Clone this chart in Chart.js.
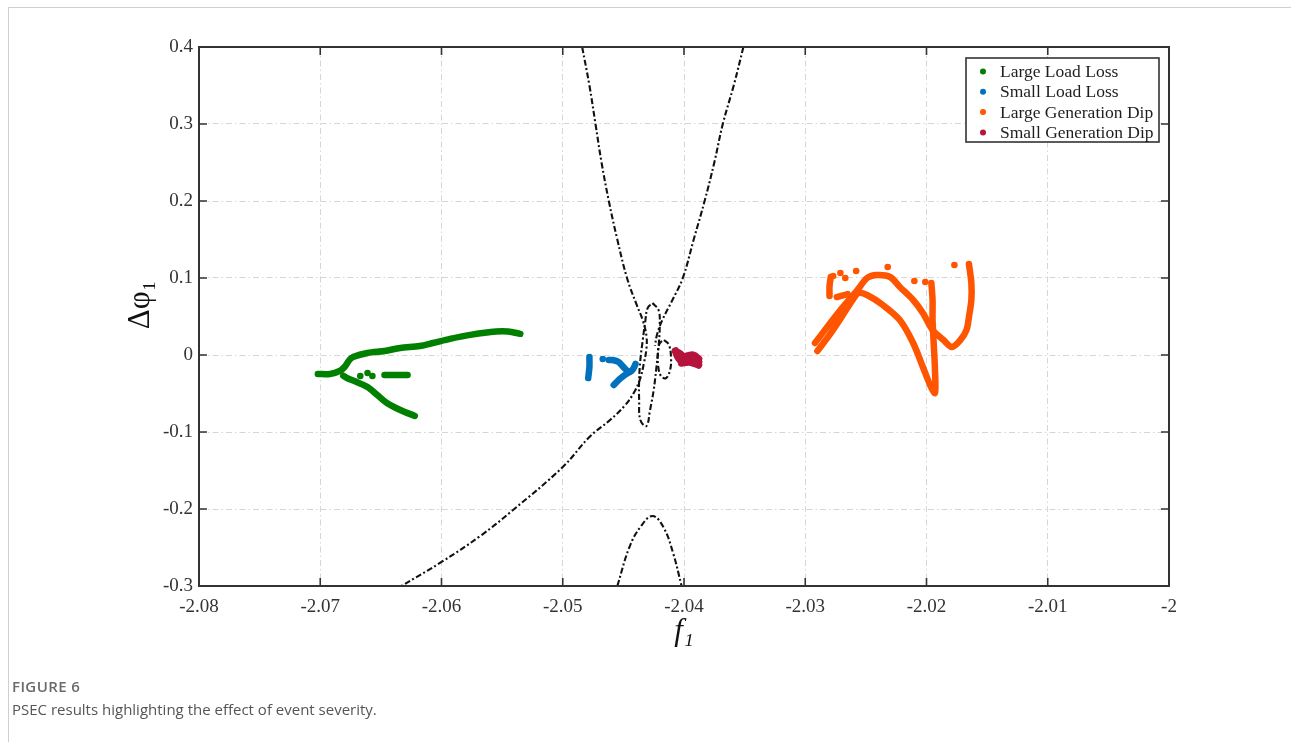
<!DOCTYPE html>
<html><head><meta charset="utf-8">
<script src="https://cdn.jsdelivr.net/npm/chart.js@4.4.0/dist/chart.umd.min.js"></script>
<style>
html,body{margin:0;padding:0;background:#fff;}
#wrap{position:absolute;left:0;top:0;width:1291px;height:742px;}
#frameTop{position:absolute;left:8px;top:7px;width:1283px;height:1px;background:#cfcfcf;}
#frameLeft{position:absolute;left:8px;top:7px;width:1px;height:735px;background:#cfcfcf;}
#figno{position:absolute;left:12px;top:676px;font:600 15px "Open Sans";color:#6a6a6a;letter-spacing:0.4px;}
#cap{position:absolute;left:12px;top:699px;font:15px "Open Sans";color:#555;}
canvas{position:absolute;left:0;top:0;}
</style></head>
<body>
<div id="wrap">
<div id="frameTop"></div><div id="frameLeft"></div>
<canvas id="c" width="1291" height="742"></canvas>
<div id="figno">FIGURE 6</div>
<div id="cap">PSEC results highlighting the effect of event severity.</div>
</div>
<script>
// ---------- axis ticks ----------
const xTickValues = [-2.08,-2.07,-2.06,-2.05,-2.04,-2.03,-2.02,-2.01,-2];
const xTickLabels = ['-2.08','-2.07','-2.06','-2.05','-2.04','-2.03','-2.02','-2.01','-2'];
const yTickValues = [-0.3,-0.2,-0.1,0,0.1,0.2,0.3,0.4];
const yTickLabels = ['-0.3','-0.2','-0.1','0','0.1','0.2','0.3','0.4'];
const xTitle = 'f\u2081';
const yTitle = '   \u0394\u03c6\u2081';

// ---------- series ----------
const seriesNames = ['Large Load Loss','Small Load Loss','Large Generation Dip','Small Generation Dip'];
const seriesColors = ['#008000','#0072bd','#ff5500','#b5143c'];

// Large Load Loss
const greenMain = [[-2.0702,-0.0247],[-2.0692,-0.0247],[-2.0684,-0.0208],[-2.0680,-0.0156],[-2.0676,-0.0065],[-2.0673,-0.0026],[-2.0661,0.0026],[-2.0647,0.0052],[-2.0634,0.0091],[-2.0618,0.0117],[-2.0607,0.0156],[-2.0593,0.0210],[-2.0575,0.0265],[-2.0555,0.0305],[-2.0545,0.0305],[-2.0535,0.0275]];
const greenLower = [[-2.0681,-0.0270],[-2.0678,-0.0299],[-2.0670,-0.0351],[-2.0661,-0.0416],[-2.0653,-0.0519],[-2.0645,-0.0623],[-2.0634,-0.0714],[-2.0622,-0.0792]];
const greenDash = [[-2.0647,-0.0260],[-2.0628,-0.0260]];
const greenDots = [[-2.0667,-0.0273],[-2.0661,-0.0234],[-2.0657,-0.0273]];

// Small Load Loss
const blueBar = [[-2.0478,-0.0026],[-2.0478,-0.0156],[-2.0479,-0.0299]];
const blueMain = [[-2.0462,-0.0065],[-2.0459,-0.0065],[-2.0454,-0.0091],[-2.0450,-0.0156],[-2.0445,-0.0221],[-2.0442,-0.0182],[-2.0440,-0.0117]];
const blueLower = [[-2.0445,-0.0221],[-2.0450,-0.0273],[-2.0454,-0.0325],[-2.0458,-0.0390]];
const blueDots = [[-2.0467,-0.0052]];

// Large Generation Dip
const orangeArcA = [[-2.0292,0.0156],[-2.0271,0.0584],[-2.0257,0.0844],[-2.0249,0.1000],[-2.0241,0.1039],[-2.0230,0.1013],[-2.0222,0.0883],[-2.0211,0.0714],[-2.0203,0.0545],[-2.0195,0.0325],[-2.0186,0.0195],[-2.0179,0.0104],[-2.0172,0.0195],[-2.0167,0.0325],[-2.0165,0.0494],[-2.0163,0.0714],[-2.0163,0.0935],[-2.0165,0.1182]];
const orangeArcB = [[-2.0290,0.0052],[-2.0280,0.0260],[-2.0269,0.0519],[-2.0261,0.0714],[-2.0256,0.0805],[-2.0249,0.0779],[-2.0236,0.0649],[-2.0222,0.0455],[-2.0211,0.0156],[-2.0203,-0.0156],[-2.0197,-0.0390],[-2.0193,-0.0494],[-2.0193,-0.0195],[-2.0194,0.0130],[-2.0195,0.0455],[-2.0195,0.0714],[-2.0196,0.0935]];
const orangeTop = [[-2.0274,0.0753],[-2.0265,0.0792]];
const orangeLeftBar = [[-2.0279,0.1013],[-2.0280,0.0890],[-2.0280,0.0766]];
const orangeDots = [[-2.0277,0.1026],[-2.0271,0.1065],[-2.0267,0.1000],[-2.0258,0.1091],[-2.0232,0.1143],[-2.0210,0.0961],[-2.0201,0.0948],[-2.0177,0.1169]];

// Small Generation Dip
const redA = [[-2.0407,0.0052],[-2.0405,-0.0026],[-2.0403,-0.0065],[-2.0400,-0.0091],[-2.0397,-0.0065],[-2.0393,-0.0052],[-2.0390,-0.0065],[-2.0388,-0.0091]];
const redB = [[-2.0406,0.0039],[-2.0403,0.0013],[-2.0400,-0.0026],[-2.0397,-0.0013],[-2.0393,0.0000],[-2.0391,-0.0013],[-2.0388,-0.0052]];
const redC = [[-2.0402,-0.0104],[-2.0396,-0.0091],[-2.0390,-0.0117],[-2.0388,-0.0130]];

// Boundary curves (dash-dot)
const curveLeft = [[-2.0484,0.40],[-2.0478,0.35],[-2.0473,0.30],[-2.0468,0.25],[-2.0462,0.20],[-2.0455,0.15],[-2.0447,0.10],[-2.0439,0.065],[-2.0434,0.045],[-2.0431,0.025],[-2.0431,0.008],[-2.0433,-0.010],[-2.0436,-0.030],[-2.0441,-0.048],[-2.0449,-0.066],[-2.0461,-0.0844],[-2.0478,-0.1065],[-2.0500,-0.1455],[-2.0541,-0.2013],[-2.0568,-0.2350],[-2.0600,-0.2688],[-2.0633,-0.30]];
const curveRight = [[-2.0351,0.40],[-2.0359,0.35],[-2.0368,0.30],[-2.0375,0.25],[-2.0383,0.20],[-2.0392,0.15],[-2.0401,0.10],[-2.0410,0.07],[-2.0418,0.045],[-2.0422,0.028],[-2.0424,0.012]];
const curveBump = [[-2.0455,-0.30],[-2.0445,-0.2494],[-2.0436,-0.2234],[-2.0426,-0.2091],[-2.0417,-0.2234],[-2.0409,-0.2571],[-2.0402,-0.30]];
const ellipseTall = [[-2.0426,0.0675],[-2.0421,0.0584],[-2.0420,0.0390],[-2.0421,0.0104],[-2.0423,-0.0195],[-2.0425,-0.0455],[-2.0428,-0.0714],[-2.0431,-0.0922],[-2.0436,-0.0844],[-2.0437,-0.0584],[-2.0437,-0.0325],[-2.0436,-0.0065],[-2.0434,0.0195],[-2.0432,0.0429],[-2.0430,0.0610],[-2.0426,0.0675]];
const ellipseSmall = [[-2.04165,0.0195],[-2.04124,0.0130],[-2.04107,-0.0039],[-2.04115,-0.0195],[-2.04148,-0.0299],[-2.04190,-0.0273],[-2.04214,-0.0130],[-2.04214,0.0065],[-2.04198,0.0156],[-2.04165,0.0195]];

const seriesSegments = [
  [greenMain, greenLower, greenDash],
  [blueBar, blueMain, blueLower],
  [orangeArcA, orangeArcB, orangeTop, orangeLeftBar],
  [redA, redB, redC]
];
const seriesDots = [greenDots, blueDots, orangeDots, []];
const boundaryCurves = [curveLeft, curveRight, curveBump, ellipseTall, ellipseSmall];

// ---------- build datasets ----------
const pts = a => a.map(p => ({x: p[0], y: p[1]}));
const datasets = [];
boundaryCurves.forEach(c => datasets.push({
  data: pts(c), showLine: true, borderColor: '#111', borderWidth: 2.1,
  borderDash: [6, 2.5, 2, 2.5], pointRadius: 0, tension: 0.4, fill: false, order: 2
}));
seriesSegments.forEach((segs, i) => {
  segs.forEach(s => datasets.push({
    data: pts(s), showLine: true, borderColor: seriesColors[i], backgroundColor: seriesColors[i],
    borderWidth: i === 3 ? 7.5 : 6.5, pointRadius: 0, tension: 0.3,
    borderCapStyle: 'round', borderJoinStyle: 'round', fill: false, order: 0
  }));
  if (seriesDots[i].length) datasets.push({
    data: pts(seriesDots[i]), showLine: false, backgroundColor: seriesColors[i],
    borderColor: seriesColors[i], pointRadius: 3.3, borderWidth: 0, order: 0
  });
});

const labelFor = (vals, labs, v) => { const k = vals.findIndex(t => Math.abs(t - v) < 1e-9); return k >= 0 ? labs[k] : ''; };

const framePlugin = {
  id: 'frame',
  afterDraw(chart) {
    const {ctx, chartArea: a, scales: {x, y}} = chart;
    ctx.save();
    ctx.strokeStyle = '#333'; ctx.lineWidth = 1.6;
    ctx.beginPath();
    xTickValues.forEach(v => { const p = x.getPixelForValue(v);
      ctx.moveTo(p, a.bottom); ctx.lineTo(p, a.bottom - 8);
      ctx.moveTo(p, a.top); ctx.lineTo(p, a.top + 8); });
    yTickValues.forEach(v => { const p = y.getPixelForValue(v);
      ctx.moveTo(a.left, p); ctx.lineTo(a.left + 8, p);
      ctx.moveTo(a.right, p); ctx.lineTo(a.right - 8, p); });
    ctx.stroke();
    ctx.lineWidth = 2;
    ctx.strokeRect(a.left, a.top, a.right - a.left, a.bottom - a.top);
    // legend
    const bx = 966, by = 58, bw = 193, bh = 84;
    ctx.fillStyle = '#fff';
    ctx.fillRect(bx, by, bw, bh);
    ctx.lineWidth = 1.6; ctx.strokeStyle = '#333';
    ctx.strokeRect(bx, by, bw, bh);
    ctx.font = '17.5px "Liberation Serif"';
    ctx.textBaseline = 'middle'; ctx.textAlign = 'left';
    seriesNames.forEach((n, i) => {
      const yy = by + 13.5 + i * 20.3;
      ctx.fillStyle = seriesColors[i];
      ctx.beginPath(); ctx.arc(983, yy, 3, 0, Math.PI * 2); ctx.fill();
      ctx.fillStyle = '#1e1e1e';
      ctx.fillText(n, 1000, yy + 1);
    });
    ctx.restore();
  }
};

new Chart(document.getElementById('c'), {
  type: 'scatter',
  data: {datasets},
  options: {
    responsive: false, animation: false, events: [],
    layout: {padding: {left: 118, right: 122, top: 47, bottom: 92}},
    plugins: {legend: {display: false}, tooltip: {enabled: false}},
    scales: {
      x: {
        type: 'linear', min: -2.08, max: -2,
        afterBuildTicks: s => { s.ticks = xTickValues.map(v => ({value: v})); },
        afterFit: s => { s.height = 64; },
        grid: {color: '#d6d6d6', lineWidth: 1, drawTicks: false},
        border: {display: false, dash: [6, 3, 1.5, 3]},
        ticks: {padding: 10, color: '#333', font: {family: '"Liberation Serif"', size: 19},
          callback: v => labelFor(xTickValues, xTickLabels, v), maxRotation: 0, autoSkip: false},
        title: {display: true, text: xTitle, color: '#111', padding: {top: 0, bottom: 0},
          font: {family: '"Liberation Serif"', size: 31, style: 'italic'}}
      },
      y: {
        type: 'linear', min: -0.3, max: 0.4,
        afterBuildTicks: s => { s.ticks = yTickValues.map(v => ({value: v})); },
        afterFit: s => { s.width = 81; },
        grid: {color: '#d6d6d6', lineWidth: 1, drawTicks: false},
        border: {display: false, dash: [6, 3, 1.5, 3]},
        ticks: {padding: 6, color: '#333', font: {family: '"Liberation Serif"', size: 19},
          callback: v => labelFor(yTickValues, yTickLabels, v), autoSkip: false},
        title: {display: true, text: yTitle, color: '#111', padding: {top: 4, bottom: 0},
          font: {family: '"Liberation Serif"', size: 31}}
      }
    }
  },
  plugins: [framePlugin]
});
</script>
</body></html>
